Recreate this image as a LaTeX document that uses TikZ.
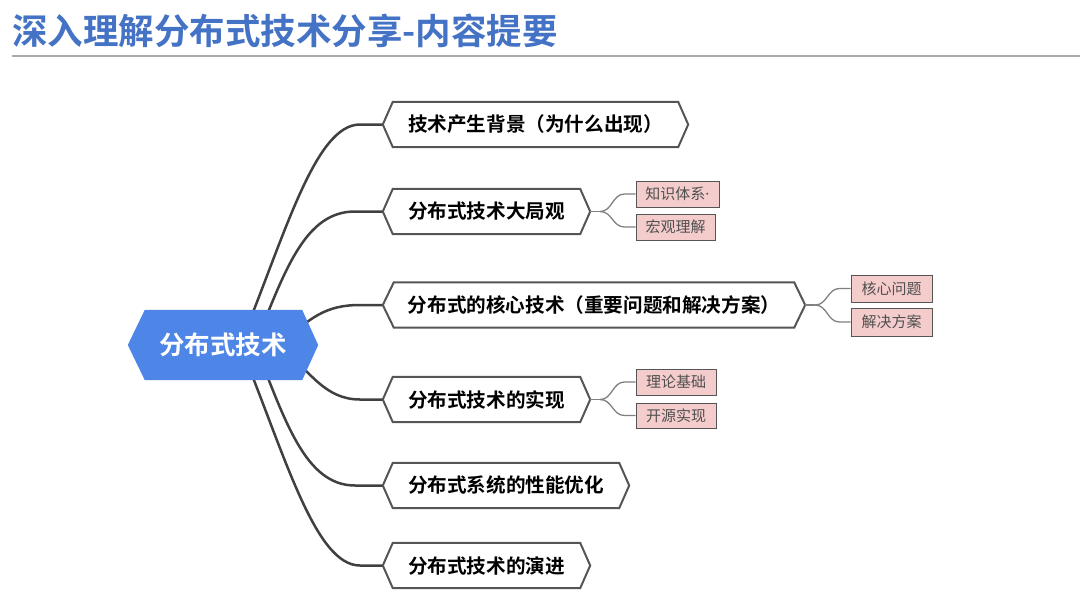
\documentclass[tikz,border=0pt]{standalone}
\usepackage{fontspec}
\newfontfamily\cjk{Noto Sans CJK SC}[BoldFont={Noto Sans CJK SC Bold}]
\newfontfamily\latinsans{Noto Sans}
\definecolor{titleblue}{RGB}{68,114,196}
\definecolor{rootblue}{RGB}{78,134,232}
\definecolor{linegray}{RGB}{64,64,64}
\definecolor{bordergray}{RGB}{85,85,85}
\definecolor{leafpink}{RGB}{244,204,204}
\definecolor{leaftext}{RGB}{80,80,80}
\definecolor{rulegray}{RGB}{170,170,170}
\tikzset{
  branch/.style={inner sep=0pt, minimum height=45pt, font=\cjk\bfseries\fontsize{19.6}{22}\selectfont, text=black},
  leaf/.style={draw=bordergray, line width=1pt, fill=leafpink, inner sep=0pt, font=\cjk\fontsize{15}{17}\selectfont, text=leaftext},
  hexline/.style={draw=bordergray, line width=2pt, fill=white},
  mainline/.style={draw=linegray, line width=2.5pt},
  leafline/.style={draw=gray, line width=1.3pt},
}
\newcommand\hexdraw[3]{% node name, indent, style
  \path[#3] (#1.west) -- ([xshift=#2]#1.north west) -- ([xshift=-#2]#1.north east) -- (#1.east) -- ([xshift=-#2]#1.south east) -- ([xshift=#2]#1.south west) -- cycle;}
\begin{document}
\begin{tikzpicture}[x=1pt,y=-1pt]
\useasboundingbox (0,0) rectangle (1080,603);
% title
\node[anchor=west, inner sep=0pt, text=titleblue, font=\cjk\bfseries\fontsize{35.5}{40}\selectfont] (title) at (12,31) {深入理解分布式技术分享-内容提要};
\coordinate (ruleL) at (12,56);
\coordinate (ruleR) at (1080,56);
\draw[rulegray, line width=1.2pt] (ruleL) -- (ruleR);

% root
\node[inner sep=0pt, minimum width=190pt, minimum height=70pt] (root) at (223,345) {};
\coordinate (rsa) at (240,345);
\coordinate (rsb) at (255,345);
\coordinate (rsc) at (280,345);

% branches (positions)
\node[branch, minimum width=305pt] (n1) at (535.5,124.5) {};
\node[branch, minimum width=207pt] (n2) at (486.5,211.5) {};
\node[branch, minimum width=422pt] (n3) at (594,305) {};
\node[branch, minimum width=207pt] (n4) at (486.5,399.5) {};
\node[branch, minimum width=246pt] (n5) at (506,485.5) {};
\node[branch, minimum width=207pt] (n6) at (486.5,565.5) {};

% main connectors
\draw[mainline] (rsa) .. controls (285,235) and (315,124.5) .. (360,124.5) -- (n1.west);
\draw[mainline] (rsb) .. controls (285,270) and (305,211.5) .. (355,211.5) -- (n2.west);
\draw[mainline] (rsc) .. controls (310,318) and (325,305) .. (360,305) -- (n3.west);
\draw[mainline] (rsc) .. controls (310,372) and (325,399.5) .. (360,399.5) -- (n4.west);
\draw[mainline] (rsb) .. controls (285,420) and (305,485.5) .. (355,485.5) -- (n5.west);
\draw[mainline] (rsa) .. controls (285,455) and (315,565.5) .. (360,565.5) -- (n6.west);

% root hexagon
\path[fill=rootblue] (root.west) -- ([xshift=17pt]root.north west) -- ([xshift=-16pt]root.north east) -- (root.east) -- ([xshift=-16pt]root.south east) -- ([xshift=17pt]root.south west) -- cycle;
\node[inner sep=0pt, text=white, font=\cjk\bfseries\fontsize{25.5}{28}\selectfont] (roottext) at (root.center) {分布式技术};

% branch hexagons
\hexdraw{n1}{10pt}{hexline}
\hexdraw{n2}{10pt}{hexline}
\hexdraw{n3}{11pt}{hexline}
\hexdraw{n4}{10pt}{hexline}
\hexdraw{n5}{10pt}{hexline}
\hexdraw{n6}{10pt}{hexline}
\node[branch] (t1) at (n1.center) {技术产生背景（为什么出现）};
\node[branch] (t2) at (n2.center) {分布式技术大局观};
\node[branch] (t3) at (n3.center) {分布式的核心技术（重要问题和解决方案）};
\node[branch] (t4) at (n4.center) {分布式技术的实现};
\node[branch] (t5) at (n5.center) {分布式系统的性能优化};
\node[branch] (t6) at (n6.center) {分布式技术的演进};

% leaves
\node[leaf, minimum width=83pt, minimum height=26pt] (l1) at (677.5,194) {知识体系{\latinsans ·}};
\node[leaf, minimum width=79pt, minimum height=26pt] (l2) at (675.5,227) {宏观理解};
\node[leaf, minimum width=81pt, minimum height=27pt] (l3) at (891.5,288.5) {核心问题};
\node[leaf, minimum width=81pt, minimum height=28pt] (l4) at (891.5,322) {解决方案};
\node[leaf, minimum width=80pt, minimum height=26pt] (l5) at (676,382) {理论基础};
\node[leaf, minimum width=80pt, minimum height=25pt] (l6) at (676,415.5) {开源实现};

% leaf connectors
\draw[leafline] (n2.east) -- ++(10,0) coordinate (f2);
\draw[leafline] (f2) .. controls +(12,0) and +(-12,0) .. ([xshift=-11pt]l1.west) -- (l1.west);
\draw[leafline] (f2) .. controls +(12,0) and +(-12,0) .. ([xshift=-11pt]l2.west) -- (l2.west);
\draw[leafline] (n3.east) -- ++(10,0) coordinate (f3);
\draw[leafline] (f3) .. controls +(12,0) and +(-12,0) .. ([xshift=-11pt]l3.west) -- (l3.west);
\draw[leafline] (f3) .. controls +(12,0) and +(-12,0) .. ([xshift=-11pt]l4.west) -- (l4.west);
\draw[leafline] (n4.east) -- ++(10,0) coordinate (f4);
\draw[leafline] (f4) .. controls +(12,0) and +(-12,0) .. ([xshift=-11pt]l5.west) -- (l5.west);
\draw[leafline] (f4) .. controls +(12,0) and +(-12,0) .. ([xshift=-11pt]l6.west) -- (l6.west);
\end{tikzpicture}
\end{document}
